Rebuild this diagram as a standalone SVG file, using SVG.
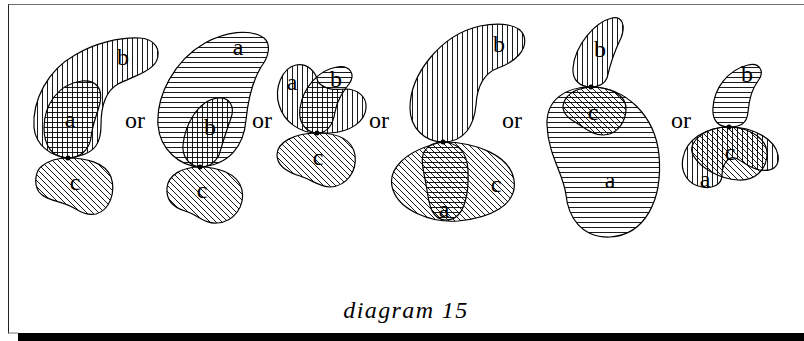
<svg xmlns="http://www.w3.org/2000/svg" width="804" height="341" viewBox="0 0 804 341">
<defs>
<pattern id="pv" width="5" height="5" patternUnits="userSpaceOnUse"><line x1="2.5" y1="0" x2="2.5" y2="5" stroke="#000" stroke-width="0.9"/></pattern>
<pattern id="ph" width="5" height="5" patternUnits="userSpaceOnUse"><line x1="0" y1="2.5" x2="5" y2="2.5" stroke="#000" stroke-width="0.9"/></pattern>
<pattern id="pd" width="6" height="6" patternUnits="userSpaceOnUse"><path d="M-1,-1 L7,7 M-1,5 L1,7 M5,-1 L7,1" stroke="#000" stroke-width="0.9"/></pattern>
</defs>
<style>
.s{stroke:#000;stroke-width:1.2;stroke-linejoin:round}
.v{fill:url(#pv)}
.h{fill:url(#ph)}
.d{fill:url(#pd)}
.lb{font-family:"Liberation Serif","DejaVu Serif",serif;font-size:24px;text-anchor:middle;fill:#000}
.cap{font-family:"Liberation Serif","DejaVu Serif",serif;font-style:italic;font-size:24px;letter-spacing:1.4px;text-anchor:middle;fill:#000}
</style>
<rect width="804" height="341" fill="#fff"/>
<g id="frame">
<line x1="8" y1="4.5" x2="804" y2="4.5" stroke="#6e6e6e" stroke-width="1"/>
<line x1="8.5" y1="4.5" x2="8.5" y2="333.5" stroke="#222" stroke-width="1"/>
<line x1="8" y1="333" x2="18" y2="333" stroke="#777" stroke-width="1"/>
<rect x="18" y="333" width="786" height="8" fill="#000"/>
</g>
<g id="panel1">
<path class="s v" d="M68,158 C50,156 36,145 34,128 C32,100 48,70 75,55 C95,43 120,37 140,38 C155,39 162,50 156,62 C150,72 132,77 118,84 C104,92 101,108 101,125 C101,140 98,155 68,158 Z"/>
<path class="s h" d="M68,158 C52,158 44,145 44,128 C44,105 58,84 82,81 C96,80 103,88 100,103 C97,115 92,125 91,138 C89,150 80,158 68,158 Z"/>
<path class="s d" d="M68,158 C85,158 105,162 111,177 C116,192 110,210 96,214 C85,216 78,210 70,206 C60,201 45,200 39,192 C33,183 36,170 42,166 C48,161 58,158 68,158 Z"/>
<circle cx="68" cy="158" r="2.5"/>
<text class="lb" x="123" y="65">b</text>
<text class="lb" x="70" y="127">a</text>
<text class="lb" x="75" y="190">c</text>
</g>
<g id="panel2">
<path class="s h" d="M200,167 C180,166 160,150 158,125 C156,95 175,60 205,43 C225,32 250,28 264,38 C272,45 268,58 261,67 C252,82 248,100 246,120 C244,145 230,165 200,167 Z"/>
<path class="s v" d="M200,167 C188,166 182,155 183,145 C185,125 198,100 218,98 C230,97 235,107 231,118 C226,132 222,145 219,155 C215,163 208,167 200,167 Z"/>
<path class="s d" d="M200,167 C215,167 238,172 242,190 C245,205 235,222 217,223 C205,224 198,215 185,211 C172,207 166,200 167,188 C168,175 182,167 200,167 Z"/>
<circle cx="200" cy="167" r="2.5"/>
<text class="lb" x="238" y="55">a</text>
<text class="lb" x="210" y="135">b</text>
<text class="lb" x="202" y="198">c</text>
</g>
<g id="panel3">
<path class="s v" d="M317,133 C300,133 284,122 279,105 C274,88 282,68 296,65 C308,63 316,72 318,82 C325,90 335,90 345,89 C358,89 367,97 366,108 C365,122 350,132 330,133 Z"/>
<path class="s h" d="M317,133 C305,132 298,122 300,108 C303,88 318,70 337,67 C350,65 356,74 349,84 C343,92 337,100 335,112 C333,125 327,133 317,133 Z"/>
<path class="s d" d="M317,133 C335,133 352,138 355,155 C357,170 348,186 330,187 C320,187 312,180 300,176 C287,172 277,165 277,155 C277,142 295,133 317,133 Z"/>
<circle cx="317" cy="133" r="2.5"/>
<text class="lb" x="292" y="90">a</text>
<text class="lb" x="336" y="87">b</text>
<text class="lb" x="318" y="165">c</text>
</g>
<g id="panel4">
<path class="s v" d="M443,142 C425,142 410,128 410,108 C410,75 440,35 480,26 C500,22 520,24 524,36 C528,50 515,62 498,68 C482,74 477,88 476,105 C474,125 465,142 443,142 Z"/>
<path class="s d" d="M443,142 C475,142 510,155 514,180 C518,205 490,218 458,221 C430,223 400,210 393,190 C386,170 405,150 443,142 Z"/>
<path class="s h" d="M443,142 C458,143 467,152 468,170 C469,190 466,220 446,220 C432,220 429,205 427,190 C424,172 420,160 424,152 C428,145 435,142 443,142 Z"/>
<circle cx="443" cy="142" r="2.5"/>
<text class="lb" x="499" y="52">b</text>
<text class="lb" x="496" y="192">c</text>
<text class="lb" x="444" y="217">a</text>
</g>
<g id="panel5">
<path class="s v" d="M591,87 C580,87 572,80 573,68 C575,45 595,22 612,18 C622,16 626,25 621,38 C614,52 610,65 607,78 C604,85 598,87 591,87 Z"/>
<path class="s h" d="M591,87 C625,87 655,115 659,155 C663,200 645,235 610,237 C580,238 568,215 566,195 C564,175 548,155 547,125 C546,100 565,87 591,87 Z"/>
<path class="s d" d="M591,87 C610,87 627,95 626,110 C625,125 615,135 603,135 C592,135 585,128 575,122 C566,117 561,110 564,102 C568,92 580,88 591,87 Z"/>
<circle cx="591" cy="87" r="2.5"/>
<text class="lb" x="600" y="57">b</text>
<text class="lb" x="593" y="120">c</text>
<text class="lb" x="610" y="188">a</text>
</g>
<g id="panel6">
<path class="s h" d="M729,127 C718,127 712,120 713,108 C714,88 728,70 748,65 C760,62 765,72 758,81 C751,90 749,100 748,112 C747,124 740,127 729,127 Z"/>
<path class="s d" d="M729,127 C752,128 768,140 767,155 C766,170 755,181 738,180 C720,179 700,168 693,155 C687,142 705,127 729,127 Z"/>
<path class="s v" d="M729,127 C755,127 775,140 778,155 C780,167 772,172 760,170 C748,168 742,160 735,158 C728,156 722,165 722,175 C722,185 712,189 702,187 C688,185 680,172 683,158 C686,140 705,127 729,127 Z"/>
<circle cx="729" cy="127" r="2.5"/>
<text class="lb" x="747" y="82">b</text>
<text class="lb" x="730" y="160">c</text>
<text class="lb" x="705" y="187">a</text>
</g>
<g id="labels">
<text class="lb" x="135" y="128">or</text>
<text class="lb" x="262" y="128">or</text>
<text class="lb" x="379" y="128">or</text>
<text class="lb" x="512" y="128">or</text>
<text class="lb" x="681" y="128">or</text>
<text class="cap" x="406" y="318">diagram 15</text>
</g>
</svg>
